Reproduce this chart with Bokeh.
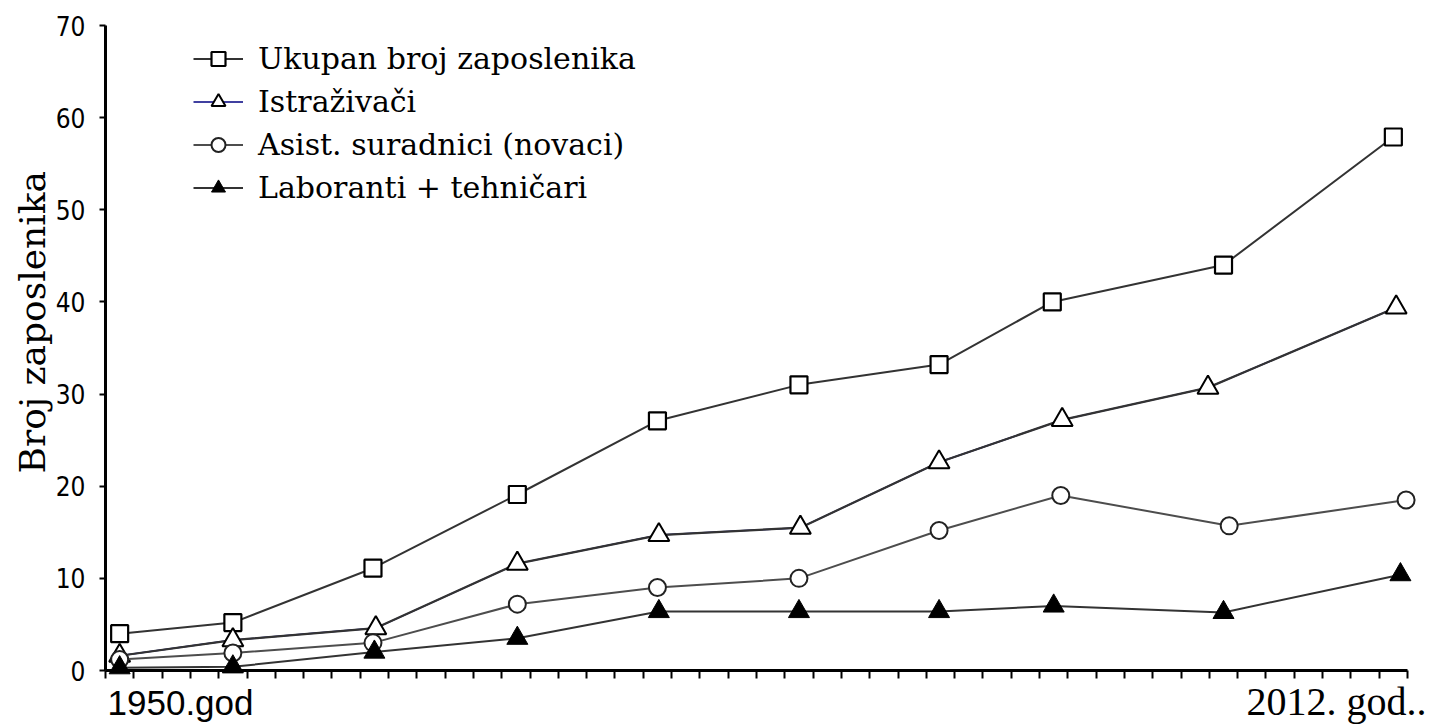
import math
from bokeh.plotting import figure
from bokeh.models import FixedTicker, Label, Legend, LegendItem, Range1d
from bokeh.embed import file_html
from bokeh.resources import INLINE

# ---------------- data ----------------
series_names = ["Ukupan broj zaposlenika", "Istraživači",
                "Asist. suradnici (novaci)", "Laboranti + tehničari"]

x_ukupno = [0.5, 4.5, 9.45, 14.55, 19.5, 24.5, 29.45, 33.45, 39.5, 45.5]
y_ukupno = [4.0, 5.2, 11.1, 19.1, 27.1, 31.0, 33.2, 40.0, 44.0, 57.9]

x_istr = [0.5, 4.5, 9.55, 14.55, 19.55, 24.55, 29.45, 33.8, 38.95, 45.6]
y_istr = [1.6, 3.3, 4.6, 11.6, 14.7, 15.5, 22.6, 27.2, 30.7, 39.4]

x_asist = [0.5, 4.5, 9.45, 14.55, 19.5, 24.5, 29.45, 33.75, 39.7, 45.95]
y_asist = [1.2, 1.9, 3.0, 7.2, 9.0, 10.0, 15.2, 19.0, 15.7, 18.5]

x_lab = [0.5, 4.5, 9.5, 14.55, 19.55, 24.5, 29.45, 33.5, 39.5, 45.75]
y_lab = [0.3, 0.4, 2.0, 3.5, 6.4, 6.4, 6.4, 7.0, 6.3, 10.4]

y_ticks = [0, 10, 20, 30, 40, 50, 60, 70]
x_minor_ticks = list(range(0, 47))
x_tick_labels = ["1950.god", "2012. god.."]
y_axis_title = "Broj zaposlenika"

# ---------------- layout constants ----------------
W, H = 1431, 724
AX_L, AX_R = 105.0, 1407.0      # pixel x of x=0 and x=46
AX_B, AX_T = 670.0, 25.0        # pixel y of y=0 and y=70
X_MAX, Y_MAX = 46.0, 70.0
kx = (AX_R - AX_L) / X_MAX
ky = (AX_B - AX_T) / Y_MAX
x_range = Range1d(-AX_L / kx, X_MAX + (W - AX_R) / kx)
y_range = Range1d(-(H - AX_B) / ky, Y_MAX + AX_T / ky)
x_label_pos = [2.65, 43.49]
y_title_pos = 37.8

p = figure(width=W, height=H, output_backend="svg", toolbar_location=None,
           title=None, x_range=x_range, y_range=y_range,
           min_border=0, min_border_left=0, min_border_right=0,
           min_border_top=0, min_border_bottom=0)
p.outline_line_color = None
p.xgrid.visible = False
p.ygrid.visible = False
p.background_fill_color = "white"
p.border_fill_color = "white"

# axes (fixed at the data origin)
p.xaxis.fixed_location = 0
p.xaxis.bounds = (0, X_MAX)
p.xaxis.ticker = FixedTicker(ticks=[], minor_ticks=x_minor_ticks)
p.xaxis.axis_line_width = 3
p.xaxis.axis_line_color = "black"
p.xaxis.minor_tick_out = 8
p.xaxis.minor_tick_in = 0
p.xaxis.minor_tick_line_width = 2
p.xaxis.minor_tick_line_color = "black"
p.xaxis.major_tick_line_color = None

p.yaxis.fixed_location = 0
p.yaxis.bounds = (0, Y_MAX)
p.yaxis.ticker = FixedTicker(ticks=y_ticks, minor_ticks=[])
p.yaxis.axis_line_width = 3
p.yaxis.axis_line_color = "black"
p.yaxis.major_tick_out = 6
p.yaxis.major_tick_in = 0
p.yaxis.major_tick_line_width = 2
p.yaxis.major_tick_line_color = "black"
p.yaxis.minor_tick_line_color = None
p.yaxis.major_label_standoff = 14
p.yaxis.major_label_text_font = "'Liberation Sans Narrow', 'DejaVu Sans Condensed', 'Liberation Sans', sans-serif"
p.yaxis.major_label_text_font_size = "26px"
p.yaxis.major_label_text_color = "black"

line_col = "#333333"

# series 1: total
l1 = p.line(x_ukupno, y_ukupno, line_color=line_col, line_width=2)
s1 = p.scatter(x_ukupno, y_ukupno, marker="square", size=17, fill_color="white",
               line_color="black", line_width=2.2)
# series 2: researchers (navy under-line is what the legend shows)
l2_leg = p.line(x_istr, y_istr, line_color="#000080", line_width=1.5)
l2 = p.line(x_istr, y_istr, line_color=line_col, line_width=2.2)
s2 = p.scatter(x_istr, y_istr, marker="triangle", size=21, fill_color="white",
               line_color="black", line_width=2)
# series 3: assistants
l3 = p.line(x_asist, y_asist, line_color="#4d4d4d", line_width=2)
s3 = p.scatter(x_asist, y_asist, marker="circle", size=17, fill_color="white",
               line_color="#222222", line_width=2)
# series 4: lab + technicians
l4 = p.line(x_lab, y_lab, line_color=line_col, line_width=2)
s4 = p.scatter(x_lab, y_lab, marker="triangle", size=21, fill_color="black",
               line_color="black", line_width=1)

legend = Legend(items=[
    LegendItem(label=series_names[0], renderers=[l1, s1]),
    LegendItem(label=series_names[1], renderers=[l2_leg, s2]),
    LegendItem(label=series_names[2], renderers=[l3, s3]),
    LegendItem(label=series_names[3], renderers=[l4, s4]),
], location=(193, 519), glyph_width=50, glyph_height=35, label_height=35,
    spacing=8, padding=0, margin=0, label_standoff=15,
    border_line_color=None, background_fill_alpha=0,
    label_text_font="DejaVu Serif", label_text_font_size="30px",
    label_text_color="black")
p.add_layout(legend)

# x-axis end labels
p.add_layout(Label(x=x_label_pos[0], y=0, y_offset=-32, text=x_tick_labels[0],
                   text_align="center", text_baseline="alphabetic",
                   text_font="Liberation Sans", text_font_size="35px",
                   text_color="black"))
p.add_layout(Label(x=x_label_pos[1], y=0, y_offset=-31, text=x_tick_labels[1],
                   text_align="center", text_baseline="alphabetic",
                   text_font="Liberation Serif", text_font_size="40px",
                   text_color="black"))

# y-axis title
p.add_layout(Label(x=0, y=y_title_pos, x_offset=-73, text=y_axis_title,
                   angle=math.pi / 2, text_align="center",
                   text_baseline="alphabetic", text_font="DejaVu Serif",
                   text_font_size="36px", text_color="black"))

open("out.html", "w").write(file_html(p, INLINE))
